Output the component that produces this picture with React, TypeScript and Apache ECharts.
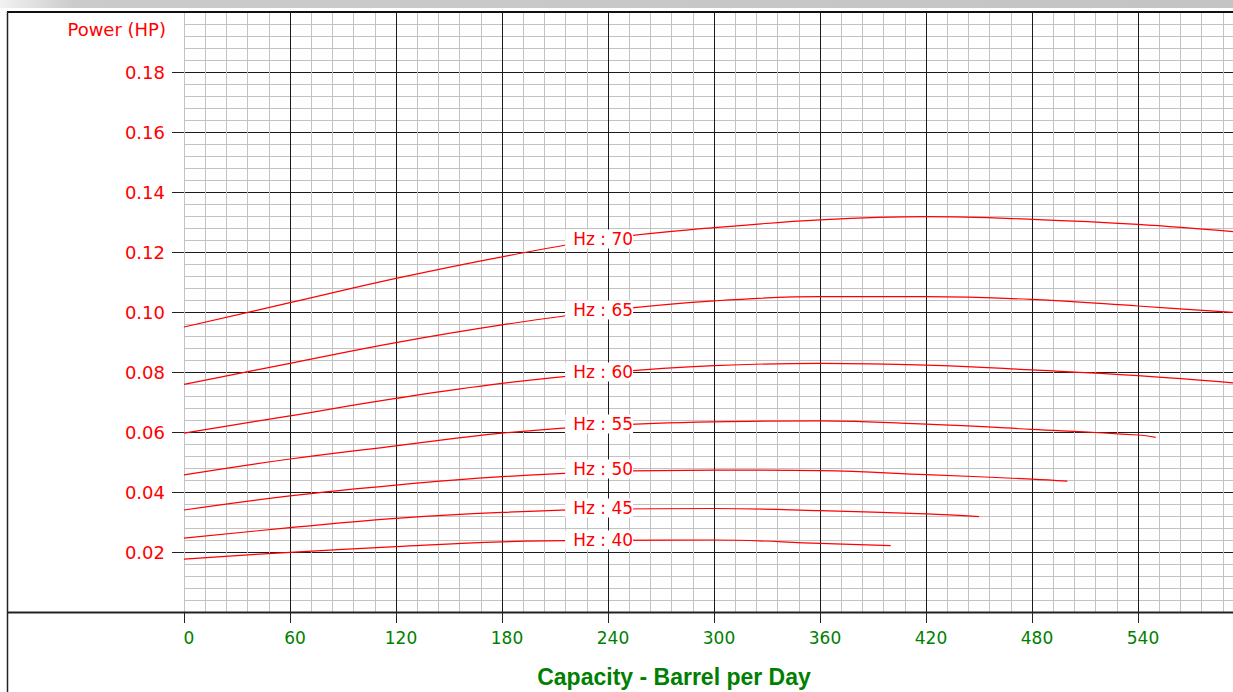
import React, { useEffect, useRef } from "react";
import * as echarts from "echarts";

// ---- Data ----
const X_TICKS_MAX = 600;
const Y_MAX = 0.2;

const cap70 = [0, 60, 120, 180, 240, 300, 360, 420, 480, 540, 600];
const hz70 = [0.095, 0.1031, 0.1112, 0.1184, 0.1245, 0.1281, 0.1307, 0.1318, 0.1309, 0.1292, 0.1265];

const cap65 = [0, 60, 120, 180, 240, 300, 360, 420, 480, 540, 600];
const hz65 = [0.0759, 0.0829, 0.0898, 0.0957, 0.1005, 0.1037, 0.1051, 0.1051, 0.1042, 0.102, 0.0996];

const cap60 = [0, 60, 120, 180, 240, 300, 360, 420, 480, 540, 600];
const hz60 = [0.0596, 0.0654, 0.0712, 0.0762, 0.0798, 0.0821, 0.0829, 0.0823, 0.0807, 0.0788, 0.0761];

const cap55 = [0, 60, 120, 180, 240, 300, 360, 420, 480, 540, 550];
const hz55 = [0.0457, 0.051, 0.0554, 0.0596, 0.0622, 0.0634, 0.0637, 0.0626, 0.0609, 0.059, 0.0582];

const cap50 = [0, 60, 120, 180, 240, 300, 360, 420, 480, 500];
const hz50 = [0.034, 0.0387, 0.0423, 0.0451, 0.0468, 0.0473, 0.0471, 0.0458, 0.0443, 0.0436];

const cap45 = [0, 60, 120, 180, 240, 300, 360, 420, 450];
const hz45 = [0.0246, 0.0281, 0.0312, 0.0332, 0.0343, 0.0345, 0.0338, 0.0327, 0.0318];

const cap40 = [0, 60, 120, 180, 240, 300, 360, 400];
const hz40 = [0.0176, 0.0199, 0.0218, 0.0234, 0.0239, 0.024, 0.0229, 0.0221];

const freqs = [70, 65, 60, 55, 50, 45, 40];
const caps = [cap70, cap65, cap60, cap55, cap50, cap45, cap40];
const powers = [hz70, hz65, hz60, hz55, hz50, hz45, hz40];
const LABEL_X = 235;
const labelY = [0.1243, 0.1007, 0.08, 0.0627, 0.0477, 0.0347, 0.024];

const X_NAME = "Capacity - Barrel per Day";
const Y_NAME = "Power (HP)";

const RED = "#ff0000";
const GREEN = "#008000";
const FONT = "DejaVu Sans";

export default function App() {
  const ref = useRef<HTMLDivElement>(null);

  useEffect(() => {
    if (!ref.current) return;
    const chart = echarts.init(ref.current, undefined, { renderer: "svg" });

    const series = freqs.map((hz, i) => ({
      type: "line",
      name: `Hz : ${hz}`,
      data: caps[i].map((c, j) => [c, powers[i][j]]),
      smooth: 0.4,
      showSymbol: false,
      lineStyle: { color: RED, width: 1.2 },
      z: 3,
      markPoint: {
        symbol: "rect",
        symbolSize: 1,
        itemStyle: { color: "rgba(0,0,0,0)" },
        z: 6,
        label: {
          show: true,
          position: "inside",
          formatter: () => `Hz : ${hz}`,
          color: RED,
          fontFamily: FONT,
          fontSize: 17,
          backgroundColor: "#ffffff",
          padding: [1, 0, 1, 8],
        },
        data: [{ coord: [LABEL_X, labelY[i]] }],
      },
    }));

    chart.setOption({
      animation: false,
      backgroundColor: "#ffffff",
      grid: { left: 184, top: 12, width: 1060, height: 600, containLabel: false },
      xAxis: {
        type: "value",
        min: 0,
        max: X_TICKS_MAX,
        interval: 60,
        axisLine: { show: false },
        axisTick: { show: true, length: 11, lineStyle: { color: "#222", width: 1 } },
        axisLabel: {
          color: GREEN,
          fontFamily: FONT,
          fontSize: 17,
          margin: 17,
          padding: [0, 0, 0, 10],
          showMaxLabel: false,
        },
        splitLine: { show: true, showMinLine: false, lineStyle: { color: "#1a1a1a", width: 1 } },
        minorTick: { show: false, splitNumber: 5 },
        minorSplitLine: { show: true, lineStyle: { color: "#c2c2c2", width: 1 } },
      },
      yAxis: {
        type: "value",
        min: 0,
        max: Y_MAX,
        interval: 0.02,
        axisLine: { show: true, lineStyle: { color: "#c2c2c2", width: 1 } },
        axisTick: { show: true, length: 12, lineStyle: { color: "#222", width: 1 } },
        axisLabel: {
          color: RED,
          fontFamily: FONT,
          fontSize: 18,
          margin: 19,
          showMinLabel: false,
          showMaxLabel: false,
          formatter: (v: number) => v.toFixed(2),
        },
        splitLine: { show: true, lineStyle: { color: "#1a1a1a", width: 1 } },
        minorTick: { show: false, splitNumber: 5 },
        minorSplitLine: { show: true, lineStyle: { color: "#c2c2c2", width: 1 } },
      },
      graphic: [
        {
          type: "rect",
          shape: { x: 0, y: 0, width: 1245, height: 8 },
          style: {
            fill: new echarts.graphic.LinearGradient(0, 0, 1, 0, [
              { offset: 0, color: "#f2f2f2" },
              { offset: 0.06, color: "#cbcbcb" },
              { offset: 1, color: "#c4c4c4" },
            ]),
          },
          silent: true,
          z: 100,
        },
        {
          type: "line",
          shape: { x1: 7, y1: 12, x2: 1245, y2: 12 },
          style: { stroke: "#111", lineWidth: 2 },
          silent: true,
          z: 100,
        },
        {
          type: "line",
          shape: { x1: 7.5, y1: 12, x2: 7.5, y2: 692 },
          style: { stroke: "#222", lineWidth: 1.5 },
          silent: true,
          z: 100,
        },
        {
          type: "line",
          shape: { x1: 7, y1: 612.5, x2: 1245, y2: 612.5 },
          style: { stroke: "#222", lineWidth: 2 },
          silent: true,
          z: 100,
        },
        {
          type: "text",
          x: 166,
          y: 29,
          style: {
            text: Y_NAME,
            fill: RED,
            font: `18px "${FONT}"`,
            textAlign: "right",
            textVerticalAlign: "middle",
          },
          silent: true,
          z: 100,
        },
        {
          type: "text",
          x: 674,
          y: 677,
          style: {
            text: X_NAME,
            fill: GREEN,
            font: `bold 23px "Liberation Sans"`,
            textAlign: "center",
            textVerticalAlign: "middle",
          },
          silent: true,
          z: 100,
        },
      ],
      series,
    });

    return () => chart.dispose();
  }, []);

  return (
    <div
      style={{
        position: "fixed",
        left: 0,
        top: 0,
        width: 1233,
        height: 692,
        overflow: "hidden",
        background: "#ffffff",
      }}
    >
      <div ref={ref} style={{ width: 1245, height: 692 }} />
    </div>
  );
}
